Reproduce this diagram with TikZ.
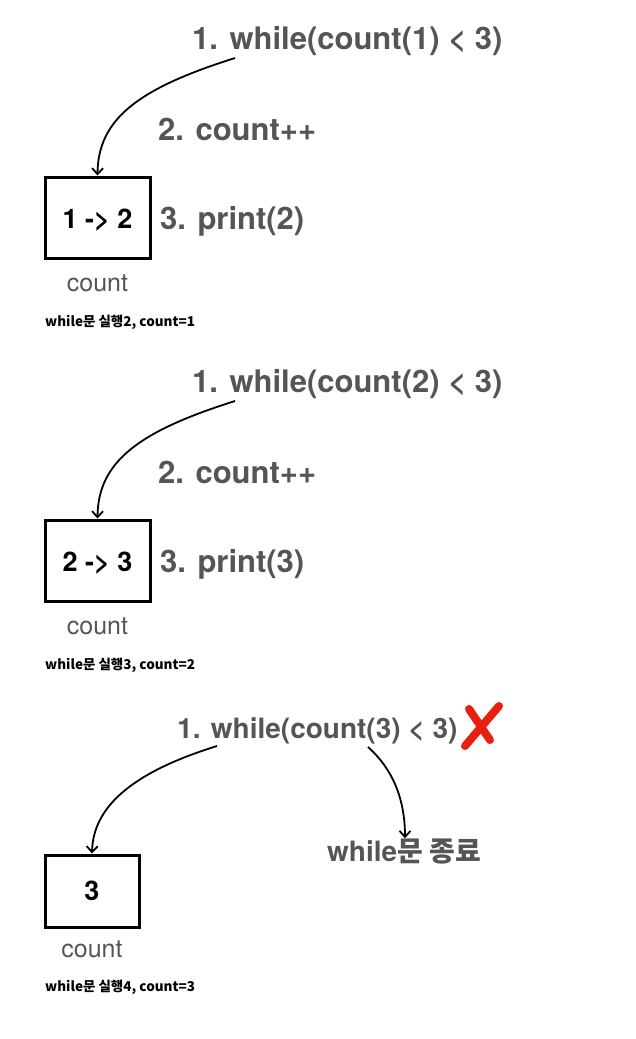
\documentclass[tikz,border=0pt]{standalone}
\usepackage{fontspec}
\setmainfont{TeX Gyre Heros}
\newfontfamily\kr{Noto Sans CJK KR}
\usetikzlibrary{arrows.meta}
\definecolor{txtgray}{HTML}{555555}
\definecolor{xred}{HTML}{E8200F}
\begin{document}
\begin{tikzpicture}[x=1pt,y=-1pt,
  big/.style={font=\fontsize{31}{31}\selectfont\bfseries, text=txtgray, inner sep=0pt, anchor=base west},
  bigs/.style={font=\fontsize{28}{28}\selectfont\bfseries, text=txtgray, inner sep=0pt, anchor=base west},
  varbox/.style={draw=black, line width=3pt, minimum width=#1, inner sep=0pt},
  boxtext/.style={font=\fontsize{27}{27}\selectfont\bfseries, text=black, inner sep=0pt, anchor=base},
  varname/.style={font=\fontsize{25}{25}\selectfont, text=txtgray, inner sep=0pt, anchor=base},
  caption/.style={font=\kr\fontsize{13.5}{13.5}\selectfont\bfseries, text=black, inner sep=0pt, anchor=base west},
  flow/.style={line width=1.8pt, -{Straight Barb[length=6pt,width=11pt,line width=1.8pt]}},
]
\useasboundingbox (0,0) rectangle (636,1039);

% ---------- section 1 ----------
\node[big] (t1) at (192,49) {1. while(count(1) < 3)};
\node[big] (c1) at (158,140) {2. count++};
\node[big] (p1) at (160,229) {3. print(2)};
\node[varbox=105pt, minimum height=81pt] (b1) at (97.5,217.5) {};
\node[boxtext] (v1) at (97.5,228) {1 -> 2};
\node[varname] (n1) at (97.5,291) {count};
\node[caption] (k1) at (45,326) {while문 실행2, count=1};
\coordinate (s1) at (235,58);
\draw[flow] (s1) .. controls (140,88) and (98,118) .. (b1.north);

% ---------- section 2 ----------
\node[big] (t2) at (192,392) {1. while(count(2) < 3)};
\node[big] (c2) at (158,483) {2. count++};
\node[big] (p2) at (160,572) {3. print(3)};
\node[varbox=105pt, minimum height=81pt] (b2) at (97.5,560.5) {};
\node[boxtext] (v2) at (97.5,571) {2 -> 3};
\node[varname] (n2) at (97.5,634) {count};
\node[caption] (k2) at (45,669) {while문 실행3, count=2};
\coordinate (s2) at (235,401);
\draw[flow] (s2) .. controls (140,431) and (98,461) .. (b2.north);

% ---------- section 3 ----------
\node[bigs] (t3) at (177,738) {1. while(count(3) < 3)};
\node[bigs] (e3) at (327,861) {while\kr 문 종료};
\node[varbox=94pt, minimum height=72pt] (b3) at (92,891) {};
\node[boxtext] (v3) at (92,900) {3};
\node[varname] (n3) at (92,957) {count};
\node[caption] (k3) at (45,991) {while문 실행4, count=3};
\coordinate (s3) at (217,746);
\coordinate (r3) at (368,747);
\draw[flow] (s3) .. controls (130,773) and (93,808) .. (b3.north);
\draw[flow] (r3) .. controls (386,763) and (405,790) .. (e3.north -| 405,0);
% red cross
\draw[xred, line width=8pt, line cap=round] (469,709) -- (490,740);
\draw[xred, line width=8pt, line cap=round] (499,706) -- (465,746);
\end{tikzpicture}
\end{document}
